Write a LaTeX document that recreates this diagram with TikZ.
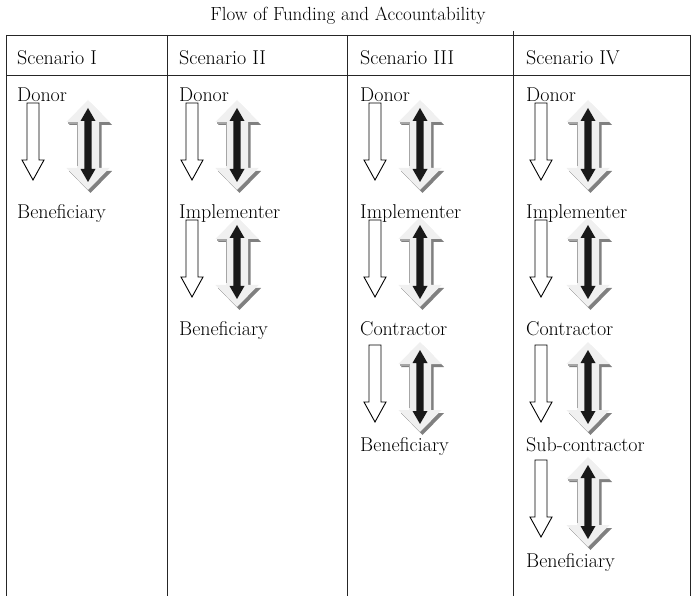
\documentclass[tikz,border=0pt]{standalone}
\newcommand\DblShape[7]{\path[#1] (#2,#3) -- (#2+#5,#3+#7) -- (#2+#6,#3+#7) -- (#2+#6,#4-#7) -- (#2+#5,#4-#7) -- (#2,#4) -- (#2-#5,#4-#7) -- (#2-#6,#4-#7) -- (#2-#6,#3+#7) -- (#2-#5,#3+#7) -- cycle;}
\newcommand\DArrow[3]{%
  \DblShape{shade3d,shift={(2.5,3)}}{#1}{#2}{#3}{21.5}{11}{22}
  \DblShape{light}{#1}{#2}{#3}{21.5}{11}{22}
  \draw[bevel] (#1-20,#2+23) -- (#1-10.5,#2+23) -- (#1-10.5,#3-24);
  \DblShape{core}{#1}{#2+8}{#3-8}{7.5}{3.6}{13}}
\newcommand\HArrow[3]{%
  \path[hollow] (#1-6,#2) -- (#1+6,#2) -- (#1+6,#3-20) -- (#1+11,#3-20) -- (#1,#3) -- (#1-11,#3-20) -- (#1-6,#3-20) -- cycle;}
\begin{document}
\begin{tikzpicture}[x=1pt,y=-1pt,
  grid/.style={draw=black!85,line width=0.9pt},
  lbl/.style={anchor=base west,inner sep=0pt,font=\fontsize{20}{23}\selectfont},
  hollow/.style={draw=black,line width=0.9pt,fill=white},
  shade3d/.style={fill=black!50},
  light/.style={fill=black!6},
  bevel/.style={draw=black!35,line width=1.3pt},
  core/.style={fill=black!90}]
\useasboundingbox (0,0) rectangle (694,596);
\fill[white] (0,0) rectangle (694,596);
% title
\node[anchor=base,inner sep=0pt,font=\fontsize{19}{22}\selectfont] (title) at (348,21) {Flow of Funding and Accountability};
% table grid
\draw[grid] (6,35) -- (690,35);
\draw[grid] (6,75) -- (690,75);
\draw[grid] (6,35) -- (6,596);
\draw[grid] (167,35) -- (167,596);
\draw[grid] (347,35) -- (347,596);
\draw[grid] (513,31) -- (513,596);
\draw[grid] (690,35) -- (690,596);
% headers
\node[lbl] (h1) at (17,65) {Scenario I};
\node[lbl] (h2) at (179,65) {Scenario II};
\node[lbl] (h3) at (360,65) {Scenario III};
\node[lbl] (h4) at (526,65) {Scenario IV};
% column I
\node[lbl] (a0) at (17,102) {Donor};
\node[lbl] (a1) at (17,219) {Beneficiary};
% column II
\node[lbl] (b0) at (179,102) {Donor};
\node[lbl] (b1) at (179,219) {Implementer};
\node[lbl] (b2) at (179,335) {Beneficiary};
% column III
\node[lbl] (c0) at (360,102) {Donor};
\node[lbl] (c1) at (360,219) {Implementer};
\node[lbl] (c2) at (360,335) {Contractor};
\node[lbl] (c3) at (360,451) {Beneficiary};
% column IV
\node[lbl] (d0) at (526,102) {Donor};
\node[lbl] (d1) at (526,219) {Implementer};
\node[lbl] (d2) at (526,335) {Contractor};
\node[lbl] (d3) at (526,451) {Sub-contractor};
\node[lbl] (d4) at (526,567) {Beneficiary};
% arrows
\foreach \k/\d in {0/0}{\HArrow{33}{103+117*\k+\d}{180+117*\k+\d}\DArrow{88}{100+117*\k+\d}{190+117*\k+\d}}
\foreach \k/\d in {0/0,1/0}{\HArrow{192}{103+117*\k+\d}{180+117*\k+\d}\DArrow{237}{100+117*\k+\d}{190+117*\k+\d}}
\foreach \k/\d in {0/0,1/0,2/8}{\HArrow{375}{103+117*\k+\d}{180+117*\k+\d}\DArrow{420}{100+117*\k+\d}{190+117*\k+\d}}
\foreach \k/\d in {0/0,1/0,2/8,3/6}{\HArrow{541}{103+117*\k+\d}{180+117*\k+\d}\DArrow{588}{100+117*\k+\d}{190+117*\k+\d}}
\end{tikzpicture}
\end{document}
